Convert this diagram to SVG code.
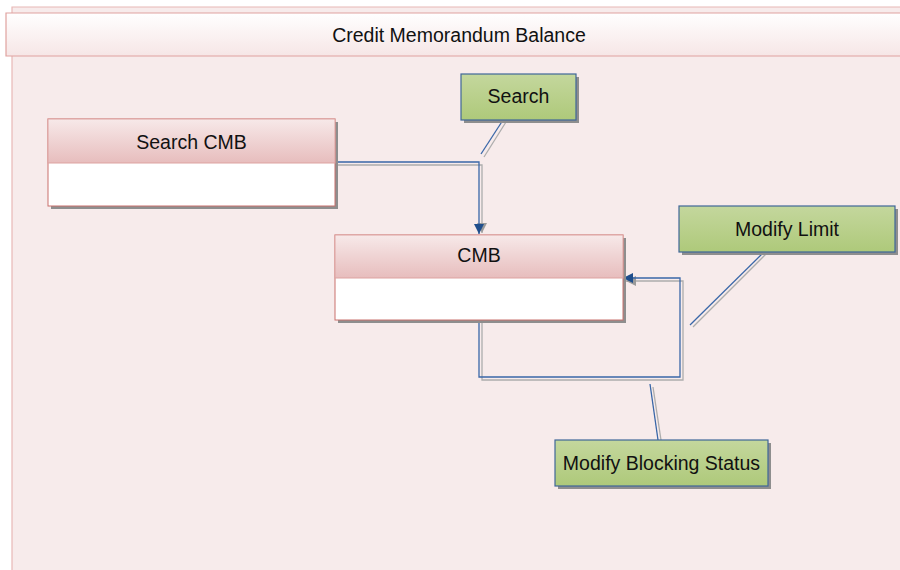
<svg xmlns="http://www.w3.org/2000/svg" width="900" height="570" viewBox="0 0 900 570">
<defs>
<linearGradient id="gTitle" x1="0" y1="0" x2="0" y2="1"><stop offset="0" stop-color="#FFFFFF"/><stop offset="1" stop-color="#F6E6E6"/></linearGradient>
<linearGradient id="gHead" x1="0" y1="0" x2="0" y2="1"><stop offset="0" stop-color="#F7E9E9"/><stop offset="1" stop-color="#E7BDBD"/></linearGradient>
<linearGradient id="gGreen" x1="0" y1="0" x2="0" y2="1"><stop offset="0" stop-color="#C4D79D"/><stop offset="1" stop-color="#AEC97A"/></linearGradient>
<marker id="arr" viewBox="0 0 10 10" refX="10" refY="5" markerWidth="10" markerHeight="10" markerUnits="userSpaceOnUse" orient="auto"><path d="M0,0 L10,5 L0,10 Z" fill="#1F4E8C"/></marker>
<marker id="arrS" viewBox="0 0 10 10" refX="10" refY="5" markerWidth="10" markerHeight="10" markerUnits="userSpaceOnUse" orient="auto"><path d="M0,0 L10,5 L0,10 Z" fill="#9A9A9A"/></marker>
</defs>
<style>
text{font-family:"Liberation Sans",Arial,sans-serif;font-size:19.5px;fill:#111;text-anchor:middle}
.shadow{fill:#8E8E8E}
.head{fill:url(#gHead);stroke:#DDA3A1;stroke-width:1}
.body{fill:#FFFFFF;stroke:#C9706D;stroke-width:1}
.green{fill:url(#gGreen);stroke:#3F6798;stroke-width:1.2}
.con{fill:none;stroke:#3A67A8;stroke-width:1.3}
.conS{fill:none;stroke:#ADADAD;stroke-width:1.3}
.pinkline{fill:none;stroke-width:1.2}
</style>
<rect x="0" y="0" width="900" height="570" fill="#FFFFFF"/>
<g id="frame">
<rect x="12" y="7" width="888" height="563" fill="#F7EBEB"/>
<path class="pinkline" d="M12,570 L12,7 L900,7" stroke="#E8B8B6"/>
<rect x="6" y="13" width="894" height="43" fill="url(#gTitle)"/>
<path class="pinkline" d="M900,13 L6,13 L6,56 L900,56" stroke="#E0A29F"/>
<text x="459" y="42" font-size="20.5">Credit Memorandum Balance</text>
</g>
<g id="connectors">
<polyline class="conS" points="337,165 482,165 482,233" marker-end="url(#arrS)"/>
<polyline class="con" points="335,162 479,162 479,234" marker-end="url(#arr)"/>
<polyline class="conS" points="482,321 482,380 683,380 683,281 626,281" marker-end="url(#arrS)"/>
<polyline class="con" points="479,320 479,377 680,377 680,278 623,278" marker-end="url(#arr)"/>
<line class="conS" x1="506" y1="122" x2="484" y2="157"/>
<line class="con" x1="503" y1="120" x2="481" y2="154"/>
<line class="conS" x1="767" y1="253" x2="693" y2="327"/>
<line class="con" x1="764" y1="252" x2="690" y2="325"/>
<line class="conS" x1="653" y1="387" x2="661" y2="440"/>
<line class="con" x1="650" y1="384" x2="658" y2="440"/>
</g>
<g id="node-search-cmb">
<rect class="shadow" x="51" y="122" width="287" height="87"/>
<rect class="body" x="48" y="119" width="287" height="87"/>
<rect class="head" x="48" y="119" width="287" height="44"/>
<text x="191.5" y="149">Search CMB</text>
</g>
<g id="node-cmb">
<rect class="shadow" x="338" y="238" width="288" height="85"/>
<rect class="body" x="335" y="235" width="288" height="85"/>
<rect class="head" x="335" y="235" width="288" height="43"/>
<text x="479" y="262">CMB</text>
</g>
<g id="node-search">
<rect class="shadow" x="464" y="77" width="115" height="46"/>
<rect class="green" x="461" y="74" width="115" height="46"/>
<text x="518.5" y="103">Search</text>
</g>
<g id="node-modify-limit">
<rect class="shadow" x="682" y="209" width="216" height="46"/>
<rect class="green" x="679" y="206" width="216" height="46"/>
<text x="787" y="236">Modify Limit</text>
</g>
<g id="node-modify-blocking-status">
<rect class="shadow" x="558" y="443" width="213" height="46"/>
<rect class="green" x="555" y="440" width="213" height="46"/>
<text x="661.5" y="470">Modify Blocking Status</text>
</g>
</svg>
